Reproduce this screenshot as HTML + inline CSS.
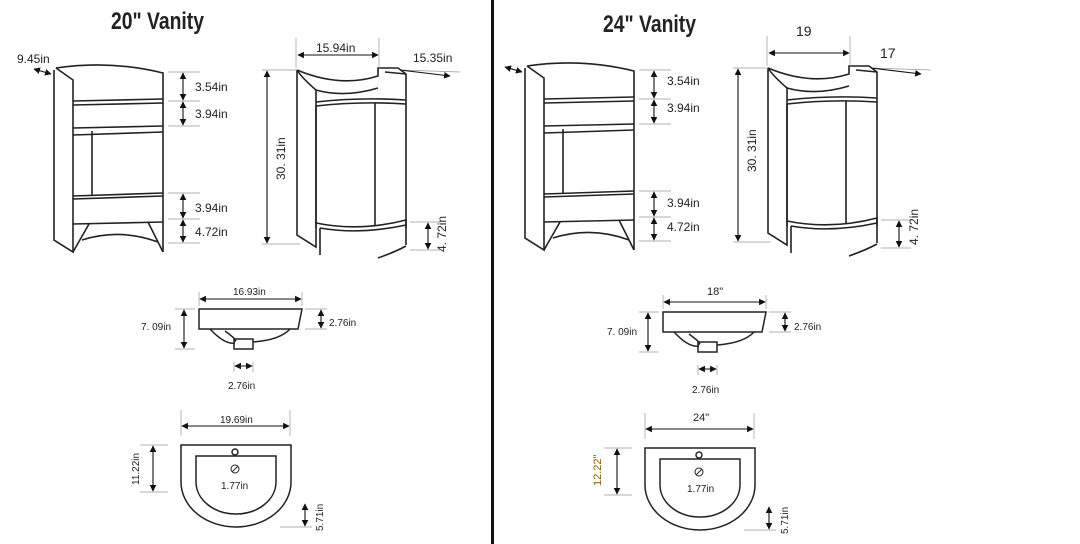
<!DOCTYPE html>
<html><head><meta charset="utf-8"><style>
html,body{margin:0;padding:0;background:#fff;}
svg{display:block;}
text{font-family:"Liberation Sans",sans-serif;fill:#222;}
.l{font-size:12px;}
.s{font-size:10px;}
</style></head><body>
<svg width="1080" height="544" viewBox="0 0 1080 544" xmlns="http://www.w3.org/2000/svg">
<defs>
<marker id="a" viewBox="0 0 10 10" refX="9" refY="5" markerWidth="6" markerHeight="6" orient="auto"><path d="M0,0L10,5L0,10z" fill="#111"/></marker>
<marker id="b" viewBox="0 0 10 10" refX="1" refY="5" markerWidth="6" markerHeight="6" orient="auto"><path d="M10,0L0,5L10,10z" fill="#111"/></marker>
<g id="cab" fill="none" stroke="#222" stroke-width="1.6">
  <path d="M54,70 L54,240 L73,252 L73,80 L56,68"/>
  <path d="M56,68 Q110,60 163,73 L163,252"/>
  <path d="M73,101 L163,99 M73,105 L163,103 M73,128 L163,126"/>
  <path d="M73,135 L163,132 M92,131 L92,196"/>
  <path d="M73,196 L163,193 M73,199 L163,196 M73,224 L163,222"/>
  <path d="M73,252 L89,224 M163,252 L148,222 M82,240 Q120,228 158,242"/>
  <path d="M34,69 L51,74" stroke="#111" stroke-width="1.1" marker-start="url(#b)" marker-end="url(#a)"/>
  <g stroke-width="0.7" stroke="#999"><path d="M168,72H200 M168,101H200 M168,126H200 M168,193H200 M168,219H200 M168,243H200"/></g>
  <g stroke="#111" stroke-width="1.1" marker-start="url(#b)" marker-end="url(#a)"><path d="M183,73V100"/><path d="M183,102V125"/><path d="M183,194V218"/><path d="M183,220V242"/></g>
  <path d="M297,70 L297,235 L316,247 L316,90 Q302,78 297,70"/>
  <path d="M297,70 Q340,88 378,76 L378,68 L398,68 L406,74 L406,228"/>
  <path d="M316,90 Q345,98 378,88 M385,72 L406,74"/>
  <path d="M316,102 Q360,97 406,100 M316,106 L316,228 M316,106 Q360,101 406,104"/>
  <path d="M375,103 L375,225 M316,223 Q360,232 406,220 L406,245"/>
  <path d="M320,228 L320,255 M320,228 Q360,235 406,225 M378,258 Q395,252 406,246"/>
  <g stroke-width="0.7" stroke="#999"><path d="M262,70H297 M262,244H300 M296,38V68 M379,38V68 M410,222H440 M410,250H440 M400,70L460,72"/></g>
  <g stroke="#111" stroke-width="1.1" marker-start="url(#b)" marker-end="url(#a)"><path d="M267,71V243"/><path d="M298,55H378"/><path d="M428,223V249"/></g>
  <path d="M400,70L450,76" stroke="#111" stroke-width="1.1" marker-end="url(#a)"/>
</g>
<g id="sink" fill="none" stroke="#222" stroke-width="1.5">
  <path d="M199,309 L302,309 L298,329 L199,329 Z"/>
  <path d="M210,329 Q225,345 235,343 M225,331 Q240,342 234,341 M253,342 Q280,340 290,329"/>
  <rect x="234" y="339" width="19" height="10"/>
  <g stroke-width="0.7" stroke="#999"><path d="M199,292V306 M302,292V306 M175,309H195 M175,349H195 M305,309H327 M305,329H327 M234,362V372 M253,362V372"/></g>
  <g stroke="#111" stroke-width="1.1" marker-start="url(#b)" marker-end="url(#a)"><path d="M200,299H301"/><path d="M184,310V348"/><path d="M321,310V328"/><path d="M235,366H252"/></g>
  <path d="M181,445 L291,445 L291,482 A55,45 0 0 1 181,482 Z"/>
  <path d="M196,456 L276,456 L276,482 A40,32 0 0 1 196,482 Z"/>
  <circle cx="235" cy="452" r="3"/>
  <circle cx="235" cy="469" r="4" stroke-width="1"/>
  <path d="M232,472 L238,466" stroke-width="1"/>
  <g stroke-width="0.7" stroke="#999"><path d="M181,410V436 M290,410V436 M140,445H168 M140,492H168 M280,527H312"/></g>
  <g stroke="#111" stroke-width="1.1" marker-start="url(#b)" marker-end="url(#a)"><path d="M182,426H289"/><path d="M153,446V491"/><path d="M305,504V526"/></g>
</g>
</defs>
<rect x="491" y="0" width="3" height="544" fill="#111"/>

<use href="#cab"/>
<use href="#sink"/>
<use href="#cab" transform="translate(471,-2)"/>
<use href="#sink" transform="translate(464,3)"/>

<text x="111" y="29" font-size="24" font-weight="bold" textLength="93" lengthAdjust="spacingAndGlyphs">20" Vanity</text>
<text x="603" y="32" font-size="24" font-weight="bold" textLength="93" lengthAdjust="spacingAndGlyphs">24" Vanity</text>

<text class="l" x="17" y="63">9.45in</text>
<text class="l" x="195" y="91">3.54in</text>
<text class="l" x="195" y="118">3.94in</text>
<text class="l" x="195" y="212">3.94in</text>
<text class="l" x="195" y="236">4.72in</text>
<text class="l" x="316" y="52">15.94in</text>
<text class="l" x="413" y="62">15.35in</text>
<text class="l" transform="translate(285,180) rotate(-90)">30. 31in</text>
<text class="l" transform="translate(446,252) rotate(-90)">4. 72in</text>
<text class="s" x="233" y="295">16.93in</text>
<text class="s" x="141" y="330">7. 09in</text>
<text class="s" x="329" y="326">2.76in</text>
<text class="s" x="228" y="389">2.76in</text>
<text class="s" x="220" y="423">19.69in</text>
<text class="s" transform="translate(139,485) rotate(-90)">11.22in</text>
<text class="s" x="221" y="489">1.77in</text>
<text class="s" transform="translate(323,531) rotate(-90)">5.71in</text>

<text class="l" x="667" y="85">3.54in</text>
<text class="l" x="667" y="112">3.94in</text>
<text class="l" x="667" y="207">3.94in</text>
<text class="l" x="667" y="231">4.72in</text>
<text x="796" y="36" font-size="14">19</text>
<text x="880" y="58" font-size="14">17</text>
<text class="l" transform="translate(756,172) rotate(-90)">30. 31in</text>
<text class="l" transform="translate(918,245) rotate(-90)">4. 72in</text>
<text x="707" y="295" font-size="11" font-family="Liberation Serif">18"</text>
<text class="s" x="607" y="335">7. 09in</text>
<text class="s" x="794" y="330">2.76in</text>
<text class="s" x="692" y="393">2.76in</text>
<text x="693" y="421" font-size="11" font-family="Liberation Serif">24"</text>
<text font-size="11" font-family="Liberation Serif" transform="translate(601,486) rotate(-90)" style="fill:#8a5a00">12.22"</text>
<text class="s" x="687" y="492">1.77in</text>
<text class="s" transform="translate(788,534) rotate(-90)">5.71in</text>
</svg>
</body></html>
